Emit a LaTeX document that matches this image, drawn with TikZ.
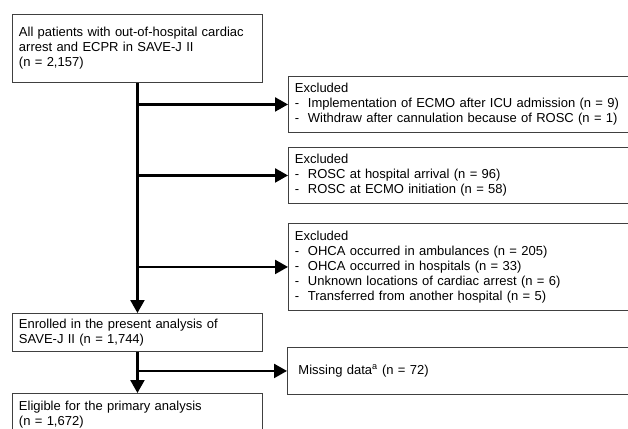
\documentclass[tikz,border=0pt]{standalone}
\usepackage{fontspec}
\setmainfont{Liberation Sans}
\usepackage{tikz}
\usetikzlibrary{arrows.meta}

\tikzset{
  stagebox/.style={draw=black!75, line width=0.9pt, anchor=north west, align=left,
    inner xsep=6.5pt, inner ysep=0pt, font=\fontsize{13}{15}\selectfont},
  flowarrow/.style={line width=2.3pt, -{Triangle[length=13pt,width=14pt]}}
}

\begin{document}
\begin{tikzpicture}[x=1pt,y=-1pt]
\useasboundingbox (0,0) rectangle (628,428) ;

\node [stagebox, text width=237pt, minimum height=68pt] (all) at (12,14)
  {All patients with out-of-hospital cardiac\\arrest and ECPR in SAVE-J II\\(n = 2,157)} ;
\node [stagebox, text width=330pt, minimum height=56pt] (excA) at (288,76)
  {Excluded\\-\ \ Implementation of ECMO after ICU admission (n = 9)\\-\ \ Withdraw after cannulation because of ROSC (n = 1)} ;
\node [stagebox, text width=330pt, minimum height=56pt] (excB) at (288,147)
  {Excluded\\-\ \ ROSC at hospital arrival (n = 96)\\-\ \ ROSC at ECMO initiation (n = 58)} ;
\node [stagebox, text width=330pt, minimum height=87pt] (excC) at (288,223)
  {Excluded\\-\ \ OHCA occurred in ambulances (n = 205)\\-\ \ OHCA occurred in hospitals (n = 33)\\-\ \ Unknown locations of cardiac arrest (n = 6)\\-\ \ Transferred from another hospital (n = 5)} ;
\node [stagebox, text width=237pt, minimum height=38pt] (enrol) at (12,313)
  {Enrolled in the present analysis of\\SAVE-J II (n = 1,744)} ;
\node [stagebox, inner xsep=11pt, text width=322pt, minimum height=47pt] (miss) at (287,347)
  {Missing data\textsuperscript{a} (n = 72)} ;
\node [stagebox, text width=237pt, minimum height=42pt] (elig) at (12,393)
  {Eligible for the primary analysis\\(n = 1,672)} ;

\draw [flowarrow] (all.south) -- (enrol.north) ;
\draw [flowarrow] (all.south |- excA.west) -- (excA.west) ;
\draw [flowarrow] (all.south |- excB.west) -- (excB.west) ;
\draw [flowarrow] (all.south |- excC.west) -- (excC.west) ;
\draw [flowarrow] (enrol.south) -- (elig.north) ;
\draw [flowarrow] (enrol.south |- miss.west) -- (miss.west) ;
\end{tikzpicture}
\end{document}
